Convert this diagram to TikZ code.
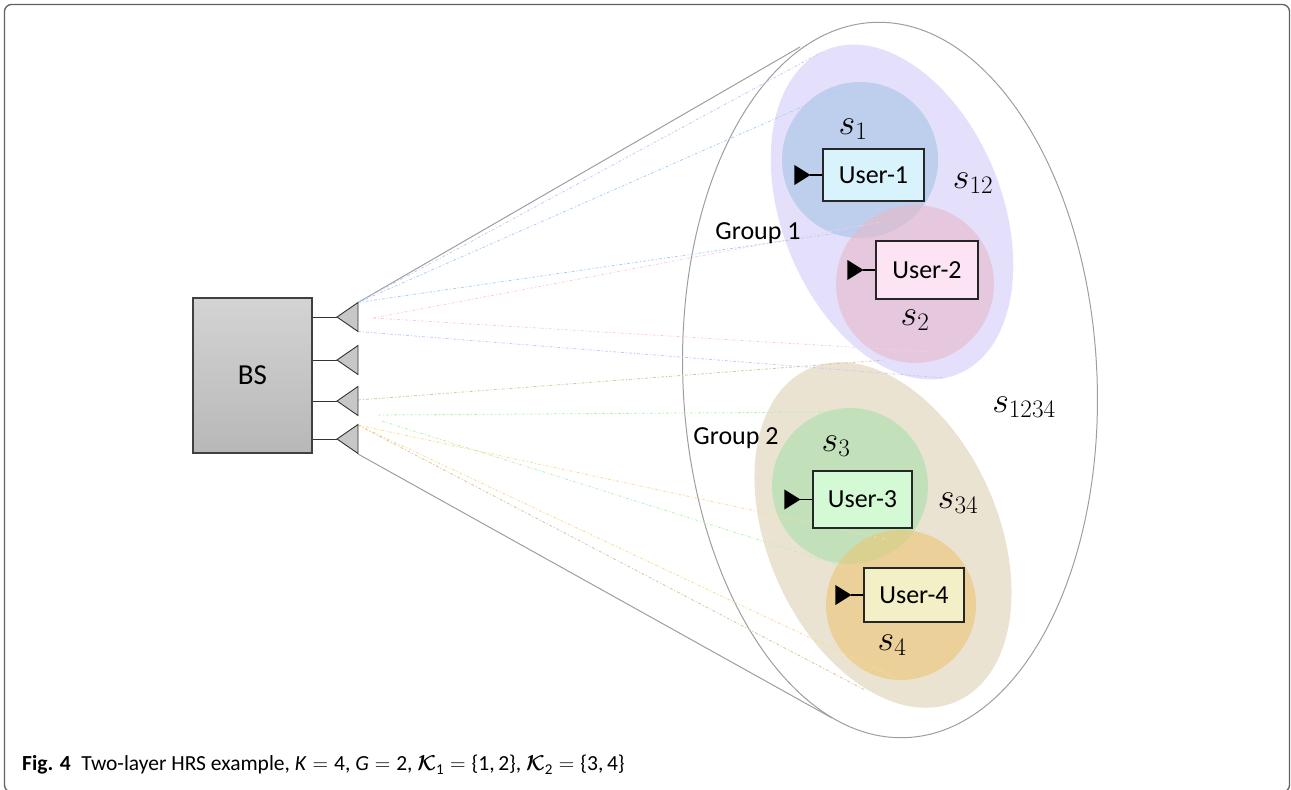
\RequirePackage{fix-cm}
\documentclass[tikz,border=0pt]{standalone}
\usepackage{amsmath}
\usepackage{fontspec}
\setmainfont{Carlito}
\begin{document}
\begin{tikzpicture}[x=1pt,y=-1pt]
\definecolor{lav}{RGB}{228,224,251}
\definecolor{beig}{RGB}{235,227,210}
\definecolor{cs1}{RGB}{166,195,228}
\definecolor{cs2}{RGB}{231,185,201}
\definecolor{cs3}{RGB}{168,225,172}
\definecolor{cs4}{RGB}{235,197,115}
\definecolor{rlav}{RGB}{200,200,248}
\definecolor{rblue}{RGB}{170,208,248}
\definecolor{rpink}{RGB}{248,205,225}
\definecolor{rbeige}{RGB}{215,198,160}
\definecolor{rgreen}{RGB}{185,240,185}
\definecolor{ryel}{RGB}{248,220,150}
\tikzset{
  frame/.style={draw=black!62, line width=1.3pt, rounded corners=7pt},
  cone/.style={draw=black!38, line width=1pt},
  ray/.style={line width=0.8pt, dash pattern=on 3pt off 2pt on 1pt off 2pt},
  userbox/.style={draw=black!85, line width=1.1pt, inner sep=0pt, font=\fontsize{26}{28}\selectfont},
  mathlbl/.style={inner sep=0pt, font=\fontsize{36}{40}\selectfont},
  grplbl/.style={inner sep=0pt, font=\fontsize{26}{28}\selectfont},
  bsant/.style={draw=black!80, fill=black!22, line width=0.9pt},
  stub/.style={draw=black!80, line width=1pt},
  uant/.style={fill=black},
  ulink/.style={draw=black, line width=1.2pt},
}
\useasboundingbox (0,0) rectangle (1291,790);
% frame
\draw[frame] (4.5,4.5) rectangle (1289.5,792);

% big cone ellipse and tangents
\coordinate (a1t) at (358,302.5);
\coordinate (a1m) at (373,318);
\coordinate (a1b) at (358,331.5);
\coordinate (a3t) at (358,400);
\coordinate (a4a) at (378,415);
\coordinate (a4b) at (382,421);
\coordinate (a4t) at (358,425);
\coordinate (a4b2) at (358,454);
\coordinate (ctop) at (800,47);
\coordinate (cbot) at (832,718);
\draw[cone] (a1t) -- (ctop);
\draw[cone] (a4b2) -- (cbot);
\draw[cone, rotate around={2.7:(890,380)}] (890,380) ellipse [x radius=207pt, y radius=358pt];

% group ellipses
\fill[lav, rotate around={-68:(892,212)}] (892,212) ellipse [x radius=175pt, y radius=110pt];
\fill[beig, rotate around={-66:(883,535)}] (883,535) ellipse [x radius=182pt, y radius=115pt];

% circles
\fill[cs1, opacity=0.6] (860,160) circle [radius=78pt];
\fill[cs2, opacity=0.6] (915,284) circle [radius=79pt];
\fill[cs3, opacity=0.6] (850,486) circle [radius=78pt];
\fill[cs4, opacity=0.6] (901,605) circle [radius=75pt];

% rays
\coordinate (r1) at (822,52);
\coordinate (r2) at (845,88);
\coordinate (r3) at (887,226);
\coordinate (r4) at (880,222);
\coordinate (r5) at (932,352);
\coordinate (r6) at (945,378);
\coordinate (r7) at (885,360);
\coordinate (r8) at (835,412);
\coordinate (r9) at (845,567);
\coordinate (r10) at (890,540);
\coordinate (r11) at (865,690);
\coordinate (r12) at (900,680);
\draw[ray, rlav] (a1t) -- (r1);
\draw[ray, rblue] (a1t) -- (r2);
\draw[ray, rblue] (a1t) -- (r3);
\draw[ray, rpink] (a1m) -- (r4);
\draw[ray, rpink] (a1m) -- (r5);
\draw[ray, rlav] (a1b) -- (r6);
\draw[ray, rbeige] (a3t) -- (r7);
\draw[ray, rgreen] (a4a) -- (r8);
\draw[ray, rgreen] (a4b) -- (r9);
\draw[ray, ryel] (a4t) -- (r10);
\draw[ray, rbeige] (a4t) -- (r11);
\draw[ray, ryel] (a4t) -- (r12);

% BS
\node[draw=black!75, line width=1.1pt, top color=black!17, bottom color=black!28,
      minimum width=119pt, minimum height=155pt, font=\fontsize{29}{31}\selectfont] (bs) at (252.5,375.5) {BS};
\foreach \yy/\nm in {317/b1,360/b2,401/b3,439/b4}{
  \coordinate (\nm) at (337,\yy);
  \draw[stub] (bs.east |- \nm) -- (\nm);
  \draw[bsant] (\nm) -- ++(21,-14.5) -- ++(0,29) -- cycle;
}

% users
\node[userbox, fill={rgb,255:red,217;green,243;blue,253}, minimum width=101pt, minimum height=52pt] (u1) at (873.5,175) {User-1};
\node[userbox, fill={rgb,255:red,252;green,228;blue,244}, minimum width=102pt, minimum height=58pt] (u2) at (927,270) {User-2};
\node[userbox, fill={rgb,255:red,211;green,250;blue,212}, minimum width=99pt, minimum height=57pt] (u3) at (862.5,499.5) {User-3};
\node[userbox, fill={rgb,255:red,243;green,239;blue,198}, minimum width=100pt, minimum height=54pt] (u4) at (914,595) {User-4};
\foreach \u in {u1,u2,u3,u4}{
  \path (\u.west) ++(-12,0) coordinate (\u a);
  \draw[ulink] (\u a) -- (\u.west);
  \fill[uant] (\u a) -- ++(-16,-10) -- ++(0,20) -- cycle;
}

% labels
\node[mathlbl] (ls1) at (853,129) {$s_1$};
\node[mathlbl] (ls12) at (973,183) {$s_{12}$};
\node[mathlbl] (ls2) at (915,320) {$s_2$};
\node[mathlbl] (ls3) at (836,446) {$s_3$};
\node[mathlbl] (ls34) at (958,503) {$s_{34}$};
\node[mathlbl] (ls4) at (892,645) {$s_4$};
\node[mathlbl] (ls1234) at (1024,407) {$s_{1234}$};
\node[grplbl] (g1) at (758,233) {Group 1};
\node[grplbl] (g2) at (736,438) {Group 2};

% caption
\node[anchor=west, inner sep=0pt, font=\fontsize{21.5}{24}\selectfont] (cap) at (22,765)
  {\textbf{Fig. 4}\enspace Two-layer HRS example, \textit{K}\;$=$\;4, \textit{G}\;$=$\;2, $\boldsymbol{\mathcal{K}}_{\text{1}}$\;$=$\;\{1,\,2\}, $\boldsymbol{\mathcal{K}}_{\text{2}}$\;$=$\;\{3,\,4\}};
\end{tikzpicture}
\end{document}
